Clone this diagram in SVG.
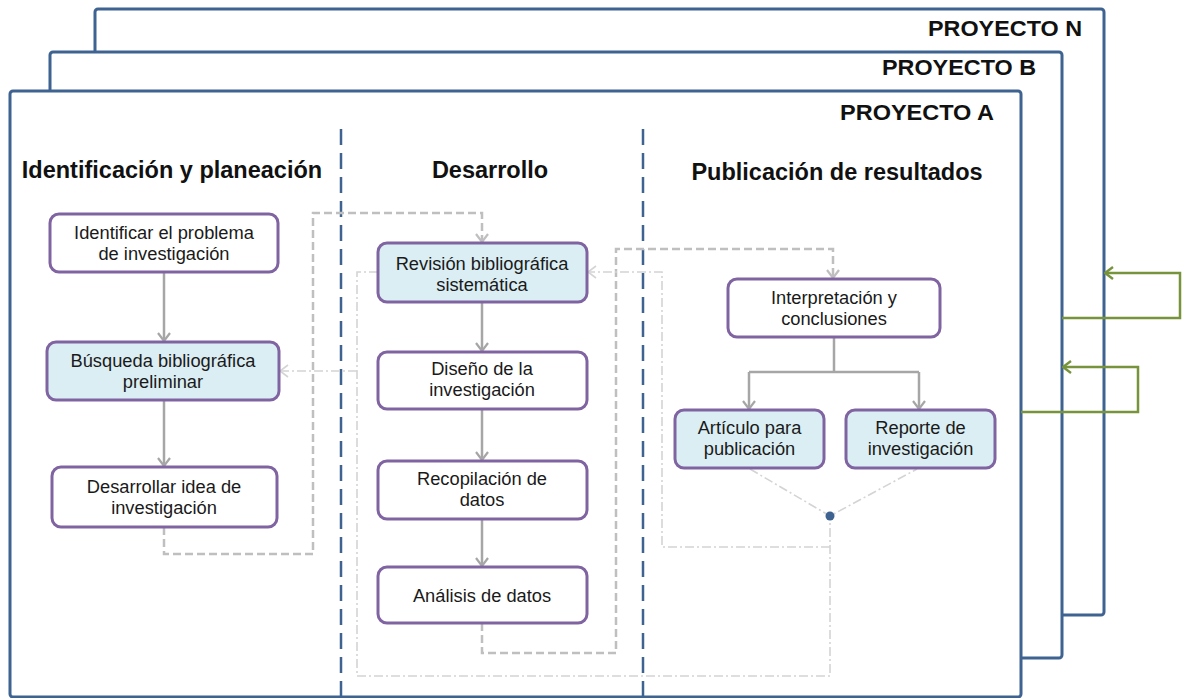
<svg xmlns="http://www.w3.org/2000/svg" width="1184" height="698" viewBox="0 0 1184 698">
  <style>
    .frame { fill: #ffffff; stroke: #3f6391; stroke-width: 3; }
    .ptitle { font-family: "Liberation Sans", Arial, sans-serif; font-weight: bold; font-size: 21.5px; fill: #111111; text-anchor: end; }
    .phase { font-family: "Liberation Sans", Arial, sans-serif; font-weight: bold; font-size: 23.5px; fill: #111111; text-anchor: middle; }
    .divider { stroke: #3f6391; stroke-width: 2.5; stroke-dasharray: 16 8; fill: none; }
    .box { stroke: #8064a2; stroke-width: 3; fill: #ffffff; }
    .box.hl { fill: #daeef3; }
    .label { font-family: "Liberation Sans", Arial, sans-serif; font-size: 18.3px; fill: #1a1a1a; text-anchor: middle; }
    .flow { stroke: #a6a6a6; stroke-width: 2.5; fill: none; }
    .dash { stroke: #bfbfbf; stroke-width: 2.5; fill: none; stroke-dasharray: 8 4; }
    .dashdot { stroke: #d4d4d4; stroke-width: 1.6; fill: none; stroke-dasharray: 9 3 2 3; }
    .loop { stroke: #77933c; stroke-width: 2.5; fill: none; }
  </style>
  <defs>
    <marker id="arrGray" viewBox="0 0 10 14" refX="9" refY="7" markerWidth="10" markerHeight="14" markerUnits="userSpaceOnUse" orient="auto">
      <path d="M1,1 L9,7 L1,13" fill="none" stroke="#a6a6a6" stroke-width="2.2"/>
    </marker>
    <marker id="arrDash" viewBox="0 0 10 14" refX="9" refY="7" markerWidth="10" markerHeight="14" markerUnits="userSpaceOnUse" orient="auto">
      <path d="M1,1 L9,7 L1,13" fill="none" stroke="#bfbfbf" stroke-width="2.2"/>
    </marker>
    <marker id="arrLight" viewBox="0 0 10 14" refX="9" refY="7" markerWidth="10" markerHeight="14" markerUnits="userSpaceOnUse" orient="auto">
      <path d="M1,1 L9,7 L1,13" fill="none" stroke="#d4d4d4" stroke-width="1.6"/>
    </marker>
    <marker id="arrGreen" viewBox="0 0 10 14" refX="9" refY="7" markerWidth="10" markerHeight="14" markerUnits="userSpaceOnUse" orient="auto">
      <path d="M1,1 L9,7 L1,13" fill="none" stroke="#77933c" stroke-width="2.4"/>
    </marker>
  </defs>

  <!-- stacked project frames, back to front -->
  <g id="proyecto-n">
    <rect class="frame" x="95" y="9" width="1009" height="606" rx="3"/>
    <text class="ptitle" x="1082" y="36" textLength="154" lengthAdjust="spacingAndGlyphs">PROYECTO N</text>
  </g>
  <g id="proyecto-b">
    <rect class="frame" x="50" y="52" width="1012" height="606" rx="3"/>
    <text class="ptitle" x="1036" y="75" textLength="154" lengthAdjust="spacingAndGlyphs">PROYECTO B</text>
  </g>
  <g id="proyecto-a">
    <rect class="frame" x="10" y="91" width="1011" height="606" rx="3"/>
    <text class="ptitle" x="994" y="120" textLength="154" lengthAdjust="spacingAndGlyphs">PROYECTO A</text>
  </g>

  <!-- phase columns -->
  <g id="phases">
    <text class="phase" x="172" y="178">Identificación y planeación</text>
    <text class="phase" x="490" y="178">Desarrollo</text>
    <text class="phase" x="837" y="180">Publicación de resultados</text>
    <line class="divider" x1="341" y1="129" x2="341" y2="697"/>
    <line class="divider" x1="643" y1="129" x2="643" y2="697"/>
  </g>

  <!-- connectors -->
  <g id="connectors">
    <!-- main flow -->
    <line class="flow" x1="164" y1="272" x2="164" y2="341" marker-end="url(#arrGray)"/>
    <line class="flow" x1="164" y1="400" x2="164" y2="466" marker-end="url(#arrGray)"/>
    <line class="flow" x1="482" y1="302" x2="482" y2="351" marker-end="url(#arrGray)"/>
    <line class="flow" x1="482" y1="409" x2="482" y2="460" marker-end="url(#arrGray)"/>
    <line class="flow" x1="482" y1="519" x2="482" y2="566" marker-end="url(#arrGray)"/>
    <path class="flow" d="M834,337 V372"/>
    <path class="flow" d="M749,372 H919"/>
    <line class="flow" x1="749" y1="372" x2="749" y2="409" marker-end="url(#arrGray)"/>
    <line class="flow" x1="919" y1="372" x2="919" y2="409" marker-end="url(#arrGray)"/>

    <!-- phase hand-offs -->
    <path class="dash" d="M164,527 V554 H313 V213 H482 V242" marker-end="url(#arrDash)"/>
    <path class="dash" d="M482,623 V653 H616 V249 H833 V278" marker-end="url(#arrDash)"/>

    <!-- feedback loops -->
    <path class="dashdot" d="M378,272 H357 V676 H830 V516"/>
    <path class="dashdot" d="M357,371 H280" marker-end="url(#arrLight)"/>
    <path class="dashdot" d="M830,547 H662 V272 H588" marker-end="url(#arrLight)"/>
    <path class="dashdot" d="M750,469 L830,516 L917,469"/>
    <circle cx="830" cy="516" r="4.5" fill="#3f6391"/>

    <!-- project-to-project loops -->
    <path class="loop" d="M1062,318 H1180 V273 H1105" marker-end="url(#arrGreen)"/>
    <path class="loop" d="M1021,412 H1138 V367 H1063" marker-end="url(#arrGreen)"/>
  </g>

  <!-- nodes -->
  <g id="identificar">
    <rect class="box" x="50" y="214" width="228" height="58" rx="9"/>
    <text class="label" x="164" y="239">Identificar el problema</text>
    <text class="label" x="164" y="260">de investigación</text>
  </g>
  <g id="busqueda">
    <rect class="box hl" x="47" y="342" width="232" height="58" rx="9"/>
    <text class="label" x="163" y="367">Búsqueda bibliográfica</text>
    <text class="label" x="163" y="388">preliminar</text>
  </g>
  <g id="desarrollar">
    <rect class="box" x="52" y="467" width="225" height="60" rx="9"/>
    <text class="label" x="164" y="493">Desarrollar idea de</text>
    <text class="label" x="164" y="514">investigación</text>
  </g>
  <g id="revision">
    <rect class="box hl" x="378" y="243" width="209" height="59" rx="9"/>
    <text class="label" x="482" y="270">Revisión bibliográfica</text>
    <text class="label" x="482" y="291">sistemática</text>
  </g>
  <g id="diseno">
    <rect class="box" x="378" y="352" width="209" height="57" rx="9"/>
    <text class="label" x="482" y="375">Diseño de la</text>
    <text class="label" x="482" y="396">investigación</text>
  </g>
  <g id="recopilacion">
    <rect class="box" x="378" y="461" width="209" height="58" rx="9"/>
    <text class="label" x="482" y="485">Recopilación de</text>
    <text class="label" x="482" y="506">datos</text>
  </g>
  <g id="analisis">
    <rect class="box" x="378" y="567" width="209" height="56" rx="9"/>
    <text class="label" x="482" y="602">Análisis de datos</text>
  </g>
  <g id="interpretacion">
    <rect class="box" x="728" y="279" width="212" height="58" rx="9"/>
    <text class="label" x="834" y="304">Interpretación y</text>
    <text class="label" x="834" y="325">conclusiones</text>
  </g>
  <g id="articulo">
    <rect class="box hl" x="675" y="410" width="149" height="58" rx="9"/>
    <text class="label" x="749.5" y="434">Artículo para</text>
    <text class="label" x="749.5" y="455">publicación</text>
  </g>
  <g id="reporte">
    <rect class="box hl" x="846" y="410" width="149" height="58" rx="9"/>
    <text class="label" x="920.5" y="434">Reporte de</text>
    <text class="label" x="920.5" y="455">investigación</text>
  </g>
</svg>
